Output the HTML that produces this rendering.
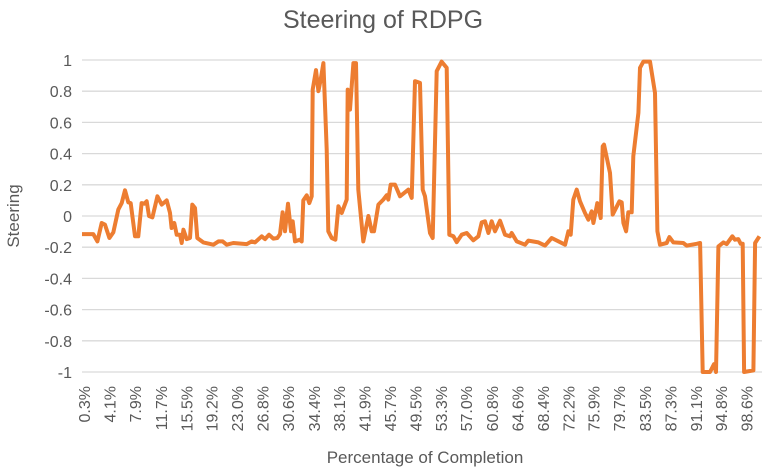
<!DOCTYPE html>
<html><head><meta charset="utf-8"><style>
html,body{margin:0;padding:0;background:#fff;}
svg{display:block;font-family:"Liberation Sans",sans-serif;}
</style></head><body>
<svg id="chart" width="766" height="473" viewBox="0 0 766 473">
<text x="383" y="28" text-anchor="middle" font-size="25" fill="#595959">Steering of RDPG</text>
<g id="grid"></g>
<g id="yticks"></g>
<g id="xticks"></g>
<text transform="translate(19,216) rotate(-90)" text-anchor="middle" font-size="17" fill="#595959">Steering</text>
<text x="425" y="463" text-anchor="middle" font-size="17" fill="#595959">Percentage of Completion</text>
<path id="line" fill="none" stroke="#ED7D31" stroke-width="4" stroke-linejoin="round"></path>
</svg>
<script>
const percents = [0,1.68,2.28,2.92,3.41,4.06,4.65,5.39,5.89,6.38,6.87,7.22,7.86,8.36,8.85,9.25,9.60,9.94,10.44,11.18,11.82,12.56,13.06,13.30,13.70,14.05,14.54,14.79,15.04,15.53,16.03,16.37,16.77,17.11,18.00,19.49,20.23,20.87,21.47,22.45,24.43,25.18,25.67,26.66,27.15,27.75,28.39,28.98,29.38,29.77,30.12,30.56,31.01,31.26,31.60,32.35,32.59,32.84,33.34,33.73,34.08,34.23,34.72,35.07,35.41,35.81,36.30,36.55,37.05,37.59,38.04,38.53,39.27,39.42,39.77,40.01,40.26,40.66,41.00,41.74,42.49,42.98,43.33,43.97,44.71,45.21,45.45,45.80,46.44,47.18,47.93,48.42,48.92,49.41,50.15,
50.55,50.89,51.63,52.03,52.62,53.36,54.11,54.50,55.10,55.59,56.33,57.07,58.06,58.81,59.30,59.79,60.29,60.78,61.28,62.02,62.76,63.50,63.75,64.49,65.73,66.22,67.71,68.70,69.69,71.67,72.16,72.51,72.90,73.40,73.89,74.63,75.13,75.62,75.87,76.46,76.96,77.25,77.45,78.34,78.74,79.73,80.07,80.32,80.72,81.06,81.56,81.80,82.55,82.79,83.29,84.28,85.02,85.37,85.76,86.75,87.15,87.74,89.22,89.72,91.20,91.70,92.09,93.18,93.77,94.07,94.42,95.16,95.65,96.49,96.89,97.38,97.73,98.03,98.23,99.61,99.86,100.50];
const steering = [-0.116,-0.116,-0.163,-0.045,-0.056,-0.141,-0.105,0.041,0.083,0.165,0.088,0.083,-0.13,-0.13,0.083,0.079,0.094,0,-0.009,0.126,0.073,0.10,0.02,-0.077,-0.045,-0.12,-0.12,-0.173,-0.088,-0.148,-0.141,0.073,0.051,-0.141,-0.169,-0.184,-0.163,-0.163,-0.184,-0.173,-0.18,-0.163,-0.169,-0.13,-0.148,-0.12,-0.145,-0.141,-0.116,0.024,-0.098,0.079,-0.098,-0.034,-0.163,-0.152,-0.163,0.10,0.133,0.083,0.126,0.81,0.935,0.80,0.875,0.98,0.426,-0.098,-0.141,-0.152,0.062,0.019,0.105,0.81,0.682,0.832,0.98,0.98,0.169,-0.163,0,-0.098,-0.098,0.073,0.105,0.133,0.105,0.201,0.201,0.126,0.152,0.169,0.116,0.864,0.853,
0.169,0.126,-0.109,-0.141,0.928,0.99,0.95,-0.12,-0.13,-0.167,-0.12,-0.109,-0.156,-0.13,-0.041,-0.034,-0.109,-0.034,-0.098,-0.03,-0.12,-0.13,-0.109,-0.163,-0.184,-0.158,-0.169,-0.19,-0.141,-0.184,-0.098,-0.12,0.105,0.169,0.094,0.019,-0.024,0.03,-0.045,0.083,-0.013,0.447,0.458,0.276,0.009,0.094,0.088,-0.045,-0.098,0.024,0.024,0.383,0.661,0.95,0.99,0.99,0.789,-0.098,-0.184,-0.173,-0.135,-0.169,-0.173,-0.19,-0.178,-0.173,-1,-1,-0.95,-1,-0.195,-0.169,-0.18,-0.13,-0.152,-0.148,-0.178,-0.178,-1,-0.99,-0.173,-0.13];
const yTicks = [1,0.8,0.6,0.4,0.2,0,-0.2,-0.4,-0.6,-0.8,-1];
const yTickLabels = ["1","0.8","0.6","0.4","0.2","0","-0.2","-0.4","-0.6","-0.8","-1"];
const xTickLabels = ["0.3%","4.1%","7.9%","11.7%","15.5%","19.2%","23.0%","26.8%","30.6%","34.4%","38.1%","41.9%","45.7%","49.5%","53.3%","57.0%","60.8%","64.6%","68.4%","72.2%","75.9%","79.7%","83.5%","87.3%","91.1%","94.8%","98.6%"];

const NS = "http://www.w3.org/2000/svg";
const X0 = 82, X1 = 762;
function xScale(p){ return 82 + p * 6.74; }
function yScale(v){ return 216 - v * 156; }

const grid = document.getElementById('grid');
const yt = document.getElementById('yticks');
yTicks.forEach((v, i) => {
  const l = document.createElementNS(NS, 'line');
  l.setAttribute('x1', X0); l.setAttribute('x2', X1);
  l.setAttribute('y1', yScale(v)); l.setAttribute('y2', yScale(v));
  l.setAttribute('stroke', '#d9d9d9'); l.setAttribute('stroke-width', '1.3');
  
  
  grid.appendChild(l);
  const t = document.createElementNS(NS, 'text');
  t.setAttribute('x', 72); t.setAttribute('y', yScale(v) + 6);
  t.setAttribute('text-anchor', 'end'); t.setAttribute('font-size', '16'); t.setAttribute('fill', '#595959');
  t.textContent = yTickLabels[i];
  
  
  yt.appendChild(t);
});

const xt = document.getElementById('xticks');
xTickLabels.forEach((s) => {
  const p = parseFloat(s);
  const x = xScale(p) + 6;
  const t = document.createElementNS(NS, 'text');
  t.setAttribute('transform', 'translate(' + x + ',386) rotate(-90)');
  t.setAttribute('text-anchor', 'end'); t.setAttribute('font-size', '16'); t.setAttribute('fill', '#595959');
  t.textContent = s;
  
  
  xt.appendChild(t);
});

let d = '';
percents.forEach((p, i) => {
  d += (i ? 'L' : 'M') + xScale(p).toFixed(1) + ' ' + yScale(steering[i]).toFixed(1);
});
document.getElementById('line').setAttribute('d', d);
</script>
</body></html>
